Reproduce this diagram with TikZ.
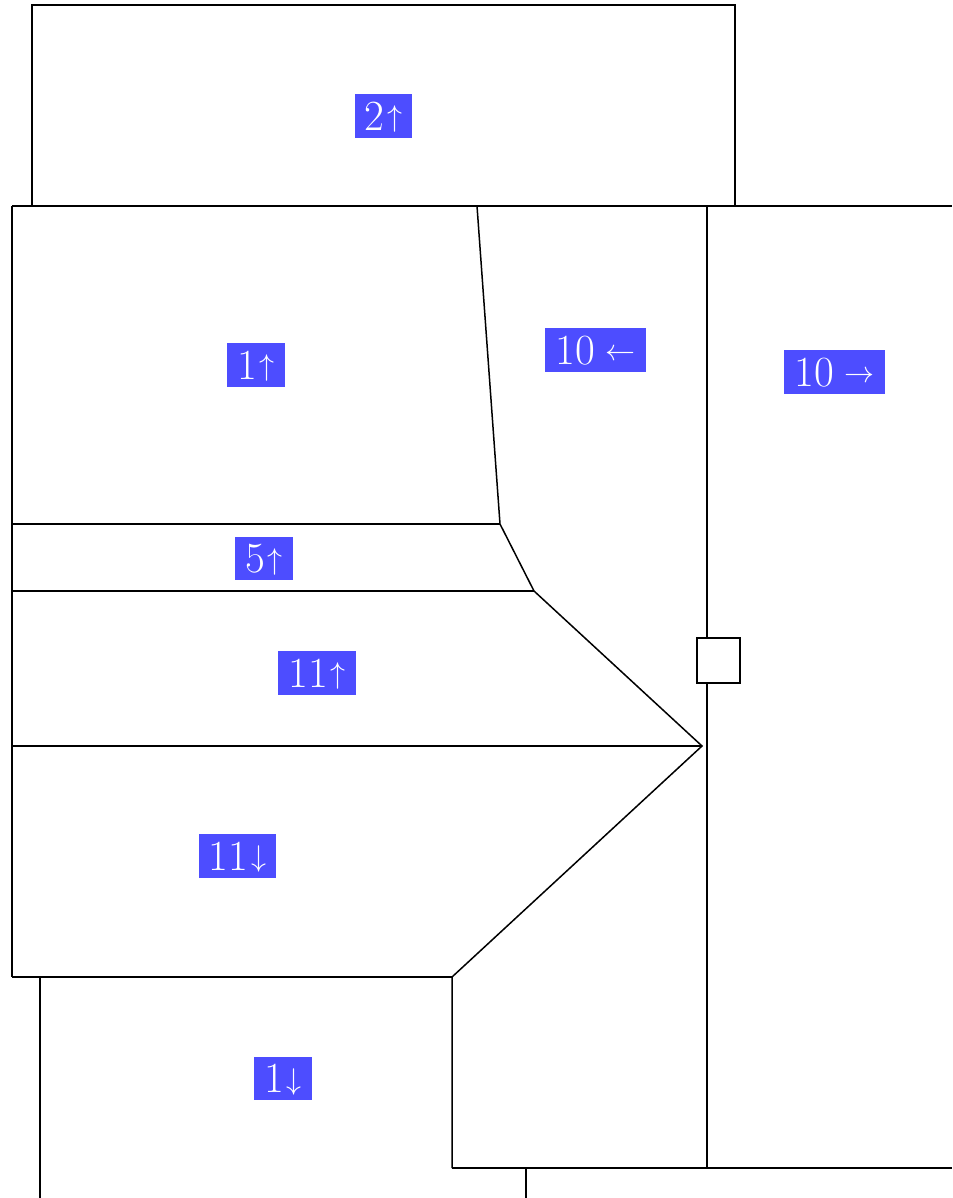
\RequirePackage{fix-cm}
\documentclass[tikz,border=0pt]{standalone}
\definecolor{lbl}{RGB}{77,77,255}
\newcommand{\tagfont}{\fontsize{43pt}{46pt}\selectfont}
\newcommand{\arr}[1]{\raisebox{3.5pt}{\fontsize{30pt}{31pt}\selectfont$#1$}}
\begin{document}
\begin{tikzpicture}[x=1pt,y=-1pt,
  wall/.style={draw=black,line width=1.5pt},
  tag/.style={fill=lbl,text=white,inner xsep=10pt,inner ysep=7.5pt,
    text height=28.5pt,text depth=0pt,font=\tagfont}]
\useasboundingbox (0,0) rectangle (952,1198);
% coordinates
\coordinate (tl) at (32,206); \coordinate (ttl) at (32,5); \coordinate (ttr) at (735,5); \coordinate (tr) at (735,206);
\coordinate (a) at (477,206); \coordinate (b) at (500,524); \coordinate (c) at (534,591);
\coordinate (d) at (702,746); \coordinate (e) at (452,977); \coordinate (f) at (452,1168);
\draw[wall] (tl) -- (ttl) -- (ttr) -- (tr);
\draw[wall] (12,206) -- (952,206);
\draw[wall] (12,206) -- (12,977);
\draw[wall] (a) -- (b) -- (c) -- (d) -- (e) -- (f);
\draw[wall] (12,524) -- (b);
\draw[wall] (12,591) -- (c);
\draw[wall] (12,746) -- (d);
\draw[wall] (12,977) -- (e);
\draw[wall] (f) -- (952,1168);
\node[wall,minimum width=43pt,minimum height=45pt,inner sep=0pt] (sq) at (718.5,660.5) {};
\draw[wall] (707,206) -- (sq.north -| 707,0);
\draw[wall] (sq.south -| 707,0) -- (707,1168);
\draw[wall] (40,977) -- (40,1198);
\draw[wall] (526,1168) -- (526,1198);
% labels
\node[tag] (l2u) at (383.5,116) {2\kern3pt\arr{\uparrow}};
\node[tag] (l1u) at (256,365) {1\kern3pt\arr{\uparrow}};
\node[tag] (l10l) at (595.5,350) {10\kern11pt\arr{\leftarrow}};
\node[tag] (l10r) at (834.5,372) {10\kern11pt\arr{\rightarrow}};
\node[tag] (l5u) at (264,558.5) {5\kern3pt\arr{\uparrow}};
\node[tag] (l11u) at (317,673) {11\kern3pt\arr{\uparrow}};
\node[tag] (l11d) at (237.5,856) {11\kern3pt\arr{\downarrow}};
\node[tag] (l1d) at (283,1078.5) {1\kern3pt\arr{\downarrow}};
\end{tikzpicture}
\end{document}
